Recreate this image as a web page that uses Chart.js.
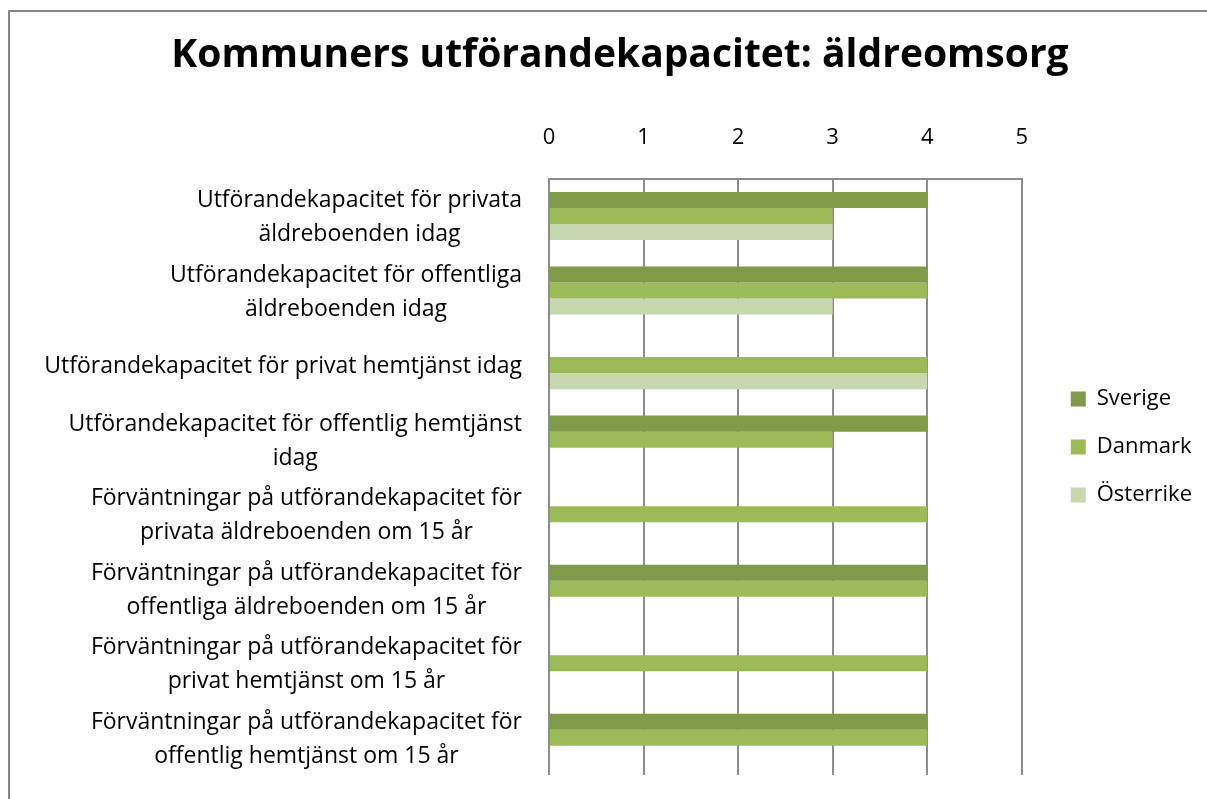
<!DOCTYPE html>
<html lang="sv">
<head>
<meta charset="utf-8">
<title>Kommuners utförandekapacitet: äldreomsorg</title>
<script src="https://cdn.jsdelivr.net/npm/chart.js@4.4.1/dist/chart.umd.min.js"></script>
<style>
    html, body { margin: 0; padding: 0; background: #fff; overflow: hidden; }
    #ram {
        position: absolute; left: 8px; top: 10px; width: 1230px; height: 820px;
        border-left: 2px solid #878787; border-top: 2px solid #878787;
    }
    #diagram { position: absolute; left: 0; top: 0; }
</style>
</head>
<body>
<div id="ram"></div>
<canvas id="diagram" width="1207" height="799"></canvas>
<script>
const kategorier = [
    ["Utförandekapacitet för privata", "äldreboenden idag"],
    ["Utförandekapacitet för offentliga", "äldreboenden idag"],
    ["Utförandekapacitet för privat hemtjänst idag"],
    ["Utförandekapacitet för offentlig hemtjänst", "idag"],
    ["Förväntningar på utförandekapacitet för", "privata äldreboenden om 15 år"],
    ["Förväntningar på utförandekapacitet för", "offentliga äldreboenden om 15 år"],
    ["Förväntningar på utförandekapacitet för", "privat hemtjänst om 15 år"],
    ["Förväntningar på utförandekapacitet för", "offentlig hemtjänst om 15 år"]
];

const sverige = [4, 4, null, 4, null, 4, null, 4];
const danmark = [3, 4, 4, 3, 4, 4, 4, 4];
const osterrike = [3, 3, 4, null, null, null, null, null];

const skalaMin = 0;
const skalaMax = 5;
const skalaSteg = 1;

const typsnitt = "'Open Sans'";
const rutnatsfarg = "#8c8c8c";

// kategorietiketterna ritas själva: varje etikett centreras radvis och högerställs mot axeln
const etiketter = {
    id: "etiketter",
    afterDraw(chart) {
        const ctx = chart.ctx;
        const y = chart.scales.y;
        ctx.save();
        ctx.font = "23px " + typsnitt;
        ctx.fillStyle = "#000";
        ctx.textAlign = "center";
        ctx.textBaseline = "alphabetic";
        kategorier.forEach((rader, i) => {
            const mitt = y.getPixelForValue(i);
            const bredd = Math.max(...rader.map(r => ctx.measureText(r).width));
            const x = y.right - 27 - bredd / 2;
            rader.forEach((rad, j) => {
                ctx.fillText(rad, x, mitt + 8 + (j - (rader.length - 1) / 2) * 34);
            });
        });
        ctx.restore();
    }
};

new Chart(document.getElementById("diagram"), {
    type: "bar",
    data: {
        labels: kategorier.map(r => r.join(" ")),
        datasets: [
            { label: "Sverige", data: sverige, backgroundColor: "#7f9a48", borderWidth: 0 },
            { label: "Danmark", data: danmark, backgroundColor: "#9bbb59", borderWidth: 0 },
            { label: "Österrike", data: osterrike, backgroundColor: "#c8d8ae", borderWidth: 0 }
        ]
    },
    options: {
        indexAxis: "y",
        responsive: false,
        animation: false,
        categoryPercentage: 0.645,
        barPercentage: 1,
        layout: { padding: { left: 38, right: 5, top: 0, bottom: 24 } },
        scales: {
            x: {
                position: "top",
                min: skalaMin,
                max: skalaMax,
                ticks: {
                    stepSize: skalaSteg,
                    padding: 28,
                    color: "#000",
                    font: { family: typsnitt, size: 22 }
                },
                grid: { color: rutnatsfarg, lineWidth: 2, drawTicks: false },
                border: { display: true, color: rutnatsfarg, width: 2 },
                afterFit(s) { s.height = 100; }
            },
            y: {
                position: "left",
                ticks: { display: false },
                grid: { display: false },
                border: { display: false },
                afterFit(s) { s.width = 511; }
            },
            luft: {
                type: "linear",
                position: "right",
                ticks: { display: false },
                grid: { display: false },
                border: { display: false },
                afterFit(s) { s.width = 23; }
            }
        },
        plugins: {
            title: {
                display: true,
                text: "Kommuners utförandekapacitet: äldreomsorg",
                color: "#000",
                font: { family: typsnitt, size: 39, weight: "bold" },
                padding: { top: 32, bottom: 0 }
            },
            legend: {
                position: "right",
                align: "start",
                title: { display: true, text: "", font: { size: 10 }, padding: { top: 350, bottom: 0 } },
                labels: {
                    boxWidth: 15,
                    boxHeight: 15,
                    padding: 26,
                    color: "#000",
                    font: { family: typsnitt, size: 22 }
                }
            },
            tooltip: { enabled: false }
        }
    },
    plugins: [etiketter]
});
</script>
</body>
</html>
